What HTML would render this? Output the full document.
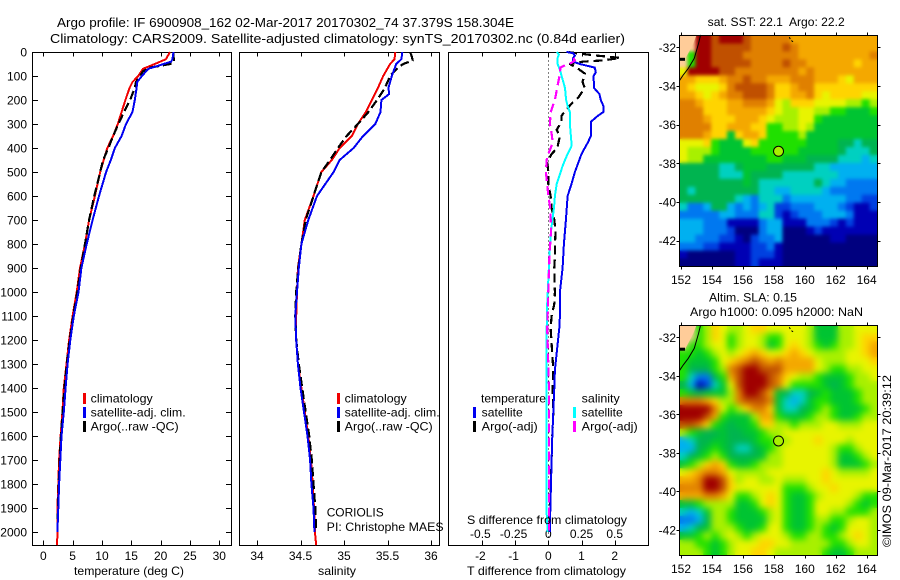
<!DOCTYPE html>
<html lang="en">
<head>
<meta charset="utf-8">
<title>Argo profile 6900908_162</title>
<style>
html,body{margin:0;padding:0;background:#fff;}
svg{display:block;}
text{font-family:"Liberation Sans",Arial,sans-serif;font-size:12px;fill:#000;}
.t13{font-size:13px;}
</style>
</head>
<body>
<svg id="chart" xmlns="http://www.w3.org/2000/svg" width="900" height="580" viewBox="0 0 900 580">
  <defs>
    <filter id="blur-sst" x="-5%" y="-5%" width="110%" height="110%" color-interpolation-filters="sRGB"><feGaussianBlur stdDeviation="1.8"/></filter>
    <filter id="blur-sla" x="-5%" y="-5%" width="110%" height="110%" color-interpolation-filters="sRGB"><feGaussianBlur stdDeviation="3.5"/></filter>
  </defs>
  <rect x="0" y="0" width="900" height="580" fill="#fff"/>
  <text class="t13" x="57" y="27" textLength="457" lengthAdjust="spacingAndGlyphs">Argo profile: IF 6900908_162 02-Mar-2017 20170302_74 37.379S 158.304E</text>
  <text class="t13" x="50" y="43" textLength="575" lengthAdjust="spacingAndGlyphs">Climatology: CARS2009. Satellite-adjusted climatology: synTS_20170302.nc (0.84d earlier)</text>
  <g id="plots"></g>
  <g id="maps"></g>

  <text x="74" y="575" textLength="110" lengthAdjust="spacingAndGlyphs">temperature (deg C)</text>
  <text x="318" y="575" textLength="38" lengthAdjust="spacingAndGlyphs">salinity</text>
  <text x="467" y="575" textLength="159" lengthAdjust="spacingAndGlyphs">T difference from climatology</text>
  <text x="467" y="524" textLength="160" lengthAdjust="spacingAndGlyphs">S difference from climatology</text>

  <g>
    <rect x="83" y="393" width="3" height="11" fill="#f00000"/>
    <rect x="83" y="407" width="3" height="11" fill="#0000f0"/>
    <rect x="83" y="421" width="3" height="11" fill="#000"/>
    <text x="90.7" y="402.3" textLength="62" lengthAdjust="spacingAndGlyphs">climatology</text>
    <text x="90.7" y="416.7" textLength="95" lengthAdjust="spacingAndGlyphs">satellite-adj. clim.</text>
    <text x="90.7" y="430.7" textLength="88" lengthAdjust="spacingAndGlyphs">Argo(..raw -QC)</text>
  </g>
  <g>
    <rect x="337" y="393" width="3" height="11" fill="#f00000"/>
    <rect x="337" y="407" width="3" height="11" fill="#0000f0"/>
    <rect x="337" y="421" width="3" height="11" fill="#000"/>
    <text x="344.7" y="402.3" textLength="62" lengthAdjust="spacingAndGlyphs">climatology</text>
    <text x="344.7" y="416.7" textLength="95" lengthAdjust="spacingAndGlyphs">satellite-adj. clim.</text>
    <text x="344.7" y="430.7" textLength="88" lengthAdjust="spacingAndGlyphs">Argo(..raw -QC)</text>
  </g>
  <text x="326.7" y="516.7" textLength="57" lengthAdjust="spacingAndGlyphs">CORIOLIS</text>
  <text x="326.7" y="531" textLength="117" lengthAdjust="spacingAndGlyphs">PI: Christophe MAES</text>

  <g>
    <text x="481" y="402.3" textLength="65" lengthAdjust="spacingAndGlyphs">temperature</text>
    <text x="581.7" y="402.3" textLength="38" lengthAdjust="spacingAndGlyphs">salinity</text>
    <rect x="473" y="407" width="3" height="11" fill="#0000f0"/>
    <rect x="473" y="421" width="3" height="11" fill="#000"/>
    <rect x="573" y="407" width="3" height="11" fill="#00ffff"/>
    <rect x="573" y="421" width="3" height="11" fill="#ff00ff"/>
    <text x="481.7" y="416.7" textLength="41" lengthAdjust="spacingAndGlyphs">satellite</text>
    <text x="481.7" y="430.7" textLength="56" lengthAdjust="spacingAndGlyphs">Argo(-adj)</text>
    <text x="581.7" y="416.7" textLength="41" lengthAdjust="spacingAndGlyphs">satellite</text>
    <text x="581.7" y="430.7" textLength="56" lengthAdjust="spacingAndGlyphs">Argo(-adj)</text>
  </g>

  <text x="707.7" y="26" textLength="137" lengthAdjust="spacingAndGlyphs">sat. SST: 22.1&#160; Argo: 22.2</text>
  <text x="709" y="301.7" textLength="88" lengthAdjust="spacingAndGlyphs">Altim. SLA: 0.15</text>
  <text x="690" y="316" textLength="173" lengthAdjust="spacingAndGlyphs">Argo h1000: 0.095 h2000: NaN</text>
  <text transform="translate(891 547) rotate(-90)" x="0" y="0" textLength="172" lengthAdjust="spacingAndGlyphs">©IMOS 09-Mar-2017 20:39:12</text>
</svg>

<script>
// ---------- depth axis ticks ----------
const depthTicks = [0,100,200,300,400,500,600,700,800,900,1000,1100,1200,1300,1400,1500,1600,1700,1800,1900,2000];
const tempTicks = [0,5,10,15,20,25,30];
const salTicks = [34,34.5,35,35.5,36];
const salTickLabels = ["34","34.5","35","35.5","36"];
const tDiffTicks = [-2,-1,0,1,2];
const sDiffTicks = [-0.5,-0.25,0,0.25,0.5];
const sDiffTickLabels = ["-0.5","-0.25","0","0.25","0.5"];

// ---------- temperature profiles ----------
const tempClimDepth = [0,30,50,70,100,125,150,200,250,300,350,400,450,500,600,700,800,900,1000,1100,1200,1300,1400,1500,1600,1700,1800,1900,2000,2055];
const tempClimValue = [21.6,20.9,19.0,17.0,16.2,15.2,14.7,14.0,13.35,12.7,11.9,10.9,10.3,9.7,8.8,7.8,7.1,6.25,5.7,5.0,4.4,3.95,3.5,3.25,2.95,2.7,2.55,2.4,2.45,2.3];
const tempSatDepth = [0,30,40,50,70,100,125,150,200,250,300,350,400,450,500,600,700,800,900,1000,1100,1200,1300,1400,1500,1600,1700,1800,1900,2000];
const tempSatValue = [22.2,22.0,21.8,20.5,17.9,16.8,16.0,15.9,15.6,15.2,14.1,13.35,12.2,11.5,10.7,9.5,8.4,7.4,6.5,6.0,5.2,4.6,4.15,3.8,3.5,3.1,2.9,2.7,2.55,2.4];
const tempArgoDepth = [0,20,30,45,50,55,65,80,100,125,150,200,250,300,350,400,450,500,600,700,800,900,1000,1100,1200,1300,1400,1500,1600,1700,1800,1900,2000];
const tempArgoValue = [22.2,22.2,22.3,22.2,21.6,20.5,18.2,17,16.5,15.8,15.6,14.8,13.75,12.8,11.9,11.1,10.2,9.7,8.7,7.8,7.1,6.4,5.8,5.1,4.5,4.0,3.6,3.3,3.0,2.8,2.6,2.5,2.4];

// ---------- salinity profiles ----------
const salClimDepth = [0,30,50,100,150,200,250,300,350,400,450,500,600,700,800,900,1000,1100,1200,1300,1400,1500,1600,1700,1800,1900,2000,2055];
const salClimValue = [35.59,35.58,35.53,35.45,35.39,35.32,35.25,35.16,35.09,34.95,34.86,34.74,34.65,34.55,34.51,34.47,34.46,34.45,34.45,34.47,34.51,34.55,34.59,34.62,34.64,34.655,34.665,34.68];
const salSatDepth = [0,30,50,100,150,175,200,250,300,350,400,450,500,600,700,800,900,1000,1100,1200,1300,1400,1500,1600,1700,1800,1900,2000];
const salSatValue = [35.67,35.66,35.6,35.55,35.51,35.52,35.43,35.42,35.36,35.22,35.11,34.95,34.88,34.69,34.59,34.51,34.48,34.46,34.44,34.45,34.47,34.5,34.54,34.58,34.61,34.625,34.65,34.66];
const salArgoDepth = [0,20,35,50,65,100,150,200,250,300,350,400,450,500,600,700,800,900,1000,1100,1200,1300,1400,1500,1600,1700,1800,1900,2000];
const salArgoValue = [35.76,35.78,35.79,35.68,35.62,35.53,35.47,35.38,35.28,35.16,35.03,34.93,34.84,34.74,34.65,34.56,34.51,34.475,34.45,34.44,34.45,34.48,34.52,34.56,34.6,34.63,34.65,34.67,34.68];

// ---------- difference profiles ----------
const tDiffSatDepth = [0,5,15,25,40,50,65,85,100,150,175,200,225,250,265,290,350,375,425,500,550,600,700,800,900,1000,1100,1150,1325,1400,1500,1600,1700,1800,1900,2000];
const tDiffSatValue = [0.55,0.75,0.8,0.75,0.75,0.95,1.4,1.43,1.36,1.38,1.54,1.58,1.66,1.66,1.5,1.29,1.28,1.2,1.0,0.8,0.7,0.58,0.53,0.47,0.43,0.35,0.35,0.33,0.2,0.18,0.15,0.12,0.1,0.08,0.06,0.05];
const tDiffArgoDepth = [0,5,10,15,20,25,35,40,50,70,90,125,150,190,215,240,265,290,325,350,400,425,460,500,550,600,650,700,750,800,850,900,1000,1050,1100,1150,1325,1400,1500,1600,2000];
const tDiffArgoValue = [0.6,0.85,1.15,1.45,1.85,2.16,1.65,1.05,0.65,0.9,1.1,1.03,1.1,0.9,0.7,0.55,0.4,0.4,0.25,0.35,0.27,0.1,-0.03,0,0,0.07,0.1,0.18,0.22,0.2,0.2,0.18,0.2,0.18,0.1,0.07,0.15,0.13,0.15,0.12,0.03];
const sDiffSatDepth = [0,10,25,50,75,100,150,200,225,250,300,350,390,420,440,475,550,600,650,700,750,850,950,1050,1150,1325,1900,2000];
const sDiffSatValue = [0.063,0.08,0.07,0.07,0.088,0.1,0.126,0.134,0.145,0.163,0.163,0.17,0.176,0.15,0.133,0.108,0.063,0.05,0.043,0.03,0.02,0.008,0,-0.008,-0.012,-0.012,-0.014,-0.005];
const sDiffArgoDepth = [25,35,45,55,65,90,125,160,200,250,300,340,375,400,425,450,500,550,600,640,700,750,850,1000,1100,1150,1400,2000];
const sDiffArgoValue = [0.19,0.2,0.175,0.125,0.09,0.088,0.075,0.063,0.05,0.018,0.012,0.025,0.033,0.018,0,-0.012,-0.018,-0.008,0,0.012,0.018,0.02,0.008,0,-0.005,-0.008,0.005,0.005];

// ---------- map colour-class grids (25 columns × 29 rows, -1 = land) ----------
const sstGrid = [
[-1,-1,15,15,14,15,15,15,14,13,13,13,13,13,12,12,12,12,12,12,12,12,12,12,12],
[-1,-1,15,15,14,14,14,14,14,13,13,13,13,14,13,12,12,12,12,12,12,12,12,12,12],
[-1,8,15,15,14,14,14,14,13,13,13,13,13,13,13,12,12,12,12,12,12,12,12,12,13],
[-1,8,15,15,14,14,14,14,14,13,13,13,13,14,13,13,12,12,12,12,12,12,11,12,12],
[10,15,15,15,15,14,14,13,13,13,13,13,13,13,13,12,13,12,12,12,12,12,12,12,12],
[12,12,11,11,11,12,13,13,14,13,13,12,12,12,13,13,13,12,12,12,11,10,12,12,12],
[12,11,10,10,10,11,13,14,14,14,14,13,11,11,12,13,13,11,11,11,11,11,11,11,11],
[12,12,11,10,11,12,13,13,14,14,14,13,11,11,12,12,13,11,10,11,11,11,11,10,10],
[13,13,12,11,11,11,12,12,13,13,13,12,10,9,11,11,11,10,10,10,10,9,9,8,9],
[13,13,13,11,11,11,12,12,12,12,12,11,10,9,9,10,10,9,9,8,8,7,7,7,8],
[13,13,13,12,11,11,11,12,12,12,11,10,9,9,9,10,10,8,7,7,7,7,7,7,7],
[13,13,13,13,11,11,12,12,12,11,11,8,8,9,9,10,9,7,7,7,7,7,7,7,7],
[13,13,13,12,11,11,7,11,12,12,11,8,8,8,8,9,7,7,7,7,7,7,7,7,7],
[10,10,10,11,8,7,7,7,10,11,8,8,8,8,8,8,7,7,7,7,6,6,5,6,6],
[10,9,9,9,8,7,7,7,7,8,8,8,8,8,8,7,7,7,7,7,6,5,5,5,6],
[10,9,9,7,7,7,7,7,7,7,7,8,8,7,7,7,6,6,6,6,5,5,5,4,5],
[6,6,6,6,6,5,5,6,7,7,7,6,6,6,6,6,6,5,5,4,4,4,4,4,4],
[6,6,6,6,6,5,5,5,7,6,6,6,6,5,5,5,5,5,5,5,4,4,4,4,4],
[6,6,6,6,6,6,6,6,7,6,5,5,5,5,5,5,5,6,5,4,4,3,3,3,3],
[6,5,6,6,6,6,6,6,6,6,5,5,4,4,5,5,5,5,4,3,3,3,3,3,3],
[6,6,6,6,6,6,6,5,4,3,5,5,5,3,4,4,4,4,4,4,4,3,3,2,2],
[5,3,3,4,6,6,4,3,4,3,4,5,2,2,3,3,3,4,4,4,3,2,1,1,2],
[3,3,3,3,3,4,4,3,3,3,5,5,2,1,2,3,3,3,4,4,4,3,1,1,1],
[4,4,4,3,3,3,1,1,1,1,3,4,4,1,1,1,3,3,3,2,1,2,1,1,1],
[4,4,4,3,3,3,2,0,0,0,3,4,4,0,0,0,1,2,1,1,1,1,1,1,1],
[4,4,3,3,3,2,2,1,0,2,3,3,4,0,0,0,0,0,0,1,1,0,0,0,0],
[3,3,3,2,2,1,1,1,1,2,2,3,1,0,0,0,0,0,0,0,0,0,0,0,0],
[1,0,0,0,0,0,0,1,1,2,2,2,1,0,0,0,0,0,0,0,0,0,0,0,0],
[0,0,0,0,0,0,0,1,1,2,1,1,1,0,0,0,0,0,0,0,0,0,0,0,0]
];
const slaGrid = [
[-1,-1,8,9,11,10,9,9,10,11,11,10,10,10,10,10,9,7,7,7,9,9,10,10,10],
[-1,-1,8,9,11,10,8,9,10,10,9,8,8,10,10,10,9,7,7,7,9,9,10,11,11],
[-1,8,8,9,10,10,8,9,10,10,9,7,8,10,11,10,9,8,7,8,9,9,10,11,12],
[8,8,7,8,9,10,9,10,11,12,11,10,10,11,12,11,10,9,9,9,9,10,10,11,12],
[8,7,7,7,8,10,11,12,13,14,13,12,13,12,12,12,12,10,9,9,9,10,10,10,11],
[8,6,6,6,8,9,13,14,15,15,14,14,14,12,12,12,12,10,9,8,8,9,9,10,10],
[8,5,3,3,6,8,12,14,15,15,15,14,13,11,10,9,9,8,7,7,7,8,9,9,10],
[6,4,1,2,5,7,10,14,15,15,15,14,13,10,8,8,8,8,7,6,7,8,9,9,9],
[8,7,6,7,7,7,9,13,15,15,14,12,7,6,5,5,6,7,8,7,7,7,8,9,9],
[13,13,13,12,11,9,9,13,14,14,14,13,7,5,4,5,7,8,8,7,7,7,8,9,9],
[15,15,15,15,13,10,8,9,11,13,13,11,7,5,5,6,7,8,9,8,7,7,7,8,9],
[15,15,15,14,12,8,7,7,7,9,12,12,8,7,7,7,8,9,9,8,7,7,8,9,9],
[14,14,13,11,8,7,6,7,7,8,11,11,9,9,8,9,9,9,10,10,9,9,9,10,10],
[9,8,7,6,6,7,6,6,7,7,8,9,9,10,10,10,10,10,10,10,10,10,10,10,10],
[4,5,6,6,7,7,6,6,6,7,8,8,9,9,10,10,10,11,10,10,10,9,10,10,10],
[4,4,6,7,8,7,6,5,5,6,7,8,9,10,10,10,10,10,10,9,8,8,9,10,10],
[5,6,7,8,9,8,6,6,6,6,7,9,9,10,10,10,10,10,10,9,7,7,8,9,10],
[7,8,9,11,12,11,8,7,7,8,9,9,9,10,10,10,10,10,10,9,7,7,7,8,9],
[10,11,12,13,13,12,10,9,9,9,9,10,10,10,10,10,10,10,11,10,9,9,9,9,10],
[12,12,13,15,15,14,11,9,10,10,9,9,10,9,9,9,10,10,11,10,10,10,10,10,10],
[13,13,13,15,15,14,11,10,10,10,10,10,10,8,8,8,9,10,10,11,10,10,10,10,10],
[12,12,12,13,13,12,10,8,8,9,10,11,10,8,7,7,8,9,10,10,10,10,9,8,8],
[7,7,8,9,9,9,9,7,7,8,10,11,10,8,7,7,8,10,10,10,10,9,8,7,8],
[5,4,5,7,9,9,8,7,7,7,8,9,10,8,7,7,8,10,10,9,9,8,8,8,9],
[3,3,4,6,9,9,8,7,7,7,7,9,10,8,7,7,8,9,9,8,8,9,10,10,9],
[4,5,6,7,9,9,9,8,7,7,8,10,10,8,7,7,8,9,8,7,8,10,10,10,9],
[7,7,8,9,8,9,10,9,8,9,10,10,10,9,8,8,9,9,8,8,9,10,11,10,9],
[9,9,8,8,7,8,9,10,10,10,11,11,10,10,9,9,9,9,9,8,8,9,10,10,9],
[9,9,9,8,7,8,9,10,10,11,11,10,9,9,9,9,9,9,8,7,7,8,9,9,9]
];
const colourClasses = ["#00007f","#0000b4","#0040e0","#0078f0","#00b0f0","#00d0c0","#00b450","#00c432","#20e000","#a8f000","#e8f400","#ffd400","#f4a800","#e08000","#c05000","#a00000"];
const landColour = "#ffcc99";

// ---------- geography ----------
const lonTicks = [152,154,156,158,160,162,164];
const latTicks = [-32,-34,-36,-38,-40,-42];
const landLon = [151.89,153.01,152.8,152.58,152.26,151.89];
const landLat = [-31.36,-31.36,-31.79,-32.14,-32.62,-32.62];
const coastLon = [153.27,153.14,152.86,152.47,152.15,151.89];
const coastLat = [-31.36,-31.79,-32.57,-33.09,-33.43,-33.74];
const landEdgeLon = [151.89,152.26];
const landEdgeLat = [-32.62,-32.62];
const islandLon = [159.0,159.1,159.23,159.26];
const islandLat = [-31.48,-31.62,-31.71,-31.76];
const profileLon = 158.304;
const profileLat = -37.379;
const profileColour = "#a8f000";

// ---------- helpers ----------
const NS = "http://www.w3.org/2000/svg";
function mk(tag, attrs, parent){
  const el = document.createElementNS(NS, tag);
  for (const k in attrs) el.setAttribute(k, attrs[k]);
  parent.appendChild(el);
  return el;
}
const plots = document.getElementById("plots");
const maps = document.getElementById("maps");

const TOP = 52.5, BOTTOM = 545.5;
const yDepth = d => 52 + 0.24 * d;
const xTemp = v => 43.3 + 5.867 * v;
const xSal = v => 257 + 87 * (v - 34);
const xTD = v => 548.3 + 33.2 * v;
const xSD = v => 548.3 + 132.8 * v;

function panelFrame(name, left, right){
  const r = mk("rect", {x:left, y:TOP, width:right-left, height:BOTTOM-TOP, fill:"none", stroke:"#000", "stroke-width":1}, plots);
  
  
}
function xAxis(ticks, labels, xf, labelY, withTicks){
  ticks.forEach((t, i) => {
    const x = Math.round(xf(t)) + 0.5;
    if (withTicks) {
      const a = mk("line", {x1:x, x2:x, y1:TOP, y2:TOP+4, stroke:"#000", "stroke-width":1}, plots);
      
      
      const b = mk("line", {x1:x, x2:x, y1:BOTTOM, y2:BOTTOM-5, stroke:"#000", "stroke-width":1}, plots);
      
      
    }
    const l = mk("text", {x:xf(t) - (t < 0 ? 1.5 : 0), y:labelY, "text-anchor":"middle"}, plots);
    l.textContent = labels[i];
    
    
  });
}
function profile(name, xf, depths, values, colour, width, dash){
  const pts = depths.map((d, i) => xf(values[i]).toFixed(1) + "," + yDepth(d).toFixed(1)).join(" ");
  const attrs = {points:pts, fill:"none", stroke:colour, "stroke-width":width, "stroke-linejoin":"round", "shape-rendering":"crispEdges"};
  if (dash) attrs["stroke-dasharray"] = dash;
  const p = mk("polyline", attrs, plots);
  
  
}

// ---------- draw profile panels ----------
panelFrame('temperature-panel', 32.5, 231.5);
panelFrame('salinity-panel', 239.5, 439.5);
panelFrame('difference-panel', 448.5, 648.5);

depthTicks.forEach(d => {
  const y = Math.round(yDepth(d)) + 0.5;
  const a = mk("line", {x1:32.5, x2:38, y1:y, y2:y, stroke:"#000", "stroke-width":1}, plots);
  
  
  const b = mk("line", {x1:226, x2:231.5, y1:y, y2:y, stroke:"#000", "stroke-width":1}, plots);
  
  
  const l = mk("text", {x:27, y:yDepth(d)+4.5, "text-anchor":"end"}, plots);
  l.textContent = String(d);
  
  
});
xAxis(tempTicks, tempTicks.map(String), xTemp, 560, true);
xAxis(salTicks, salTickLabels, xSal, 560, true);
xAxis(tDiffTicks, tDiffTicks.map(String), xTD, 560, true);
xAxis(sDiffTicks, sDiffTickLabels, xSD, 538, false);

const zero = mk("line", {x1:548.5, x2:548.5, y1:TOP, y2:BOTTOM, stroke:"#000", "stroke-width":1, "stroke-dasharray":"1 3"}, plots);



profile('temperature-climatology-line', xTemp, tempClimDepth, tempClimValue, "#f00000", 2);
profile('temperature-argo-line', xTemp, tempArgoDepth, tempArgoValue, "#000", 2.2, "9 4");
profile('temperature-satellite-line', xTemp, tempSatDepth, tempSatValue, "#0000f0", 2);

profile('salinity-climatology-line', xSal, salClimDepth, salClimValue, "#f00000", 2);
profile('salinity-argo-line', xSal, salArgoDepth, salArgoValue, "#000", 2.2, "9 4");
profile('salinity-satellite-line', xSal, salSatDepth, salSatValue, "#0000f0", 2);

profile('t-difference-argo-line', xTD, tDiffArgoDepth, tDiffArgoValue, "#000", 2.2, "9 5");
profile('t-difference-satellite-line', xTD, tDiffSatDepth, tDiffSatValue, "#0000f0", 2);
profile('s-difference-satellite-line', xSD, sDiffSatDepth, sDiffSatValue, "#00ffff", 2);
profile('s-difference-argo-line', xSD, sDiffArgoDepth, sDiffArgoValue, "#ff00ff", 2.2, "9 5");

// ---------- draw maps ----------
function drawMap(name, grid, left, right, top, bottom, lat32Y, pxPerLat, labelY, blurId){
  const g = mk("g", {}, maps);
  
  
  const xLon = lon => 681 + 15.47 * (lon - 152);
  const yLat = lat => lat32Y + pxPerLat * (-32 - lat);
  const rows = grid.length, cols = grid[0].length;
  const cw = (right - left) / cols, ch = (bottom - top) / rows;

  const clip = mk("clipPath", {id:name + "-clip"}, g);
  mk("rect", {x:left, y:top, width:right-left, height:bottom-top}, clip);
  const clipped = mk("g", {"clip-path":"url(#" + name + "-clip)"}, g);
  
  
  const cells = mk("g", {id:name + "-cells"}, clipped);
  
  
  grid.forEach((row, r) => row.forEach((v, c) => {
    const cell = mk("rect", {x:left + c*cw, y:top + r*ch, width:cw + 0.6, height:ch + 0.6, fill: v < 0 ? landColour : colourClasses[v]}, cells);
    
    
  }));
  const soft = mk("use", {href:"#" + name + "-cells", filter:"url(#" + blurId + ")"}, clipped);
  
  

  const land = mk("polygon", {points:landLon.map((v,i) => xLon(v).toFixed(1)+","+yLat(landLat[i]).toFixed(1)).join(" "), fill:landColour}, g);
  
  
  const coast = mk("polyline", {points:coastLon.map((v,i) => xLon(v).toFixed(1)+","+yLat(coastLat[i]).toFixed(1)).join(" "), fill:"none", stroke:"#000", "stroke-width":1}, g);
  
  
  const edge = mk("polyline", {points:landEdgeLon.map((v,i) => xLon(v).toFixed(1)+","+yLat(landEdgeLat[i]).toFixed(1)).join(" "), fill:"none", stroke:"#000", "stroke-width":3}, g);
  
  
  const island = mk("polyline", {points:islandLon.map((v,i) => xLon(v).toFixed(1)+","+yLat(islandLat[i]).toFixed(1)).join(" "), fill:"none", stroke:"#000", "stroke-width":1, "stroke-dasharray":"2 2"}, g);
  
  
  const frame = mk("rect", {x:left, y:top, width:right-left, height:bottom-top, fill:"none", stroke:"#000", "stroke-width":1}, g);
  
  
  lonTicks.forEach(lon => {
    const x = Math.round(xLon(lon)) + 0.5;
    const a = mk("line", {x1:x, x2:x, y1:top-3, y2:top, stroke:"#000", "stroke-width":1}, g);
    
    
    const b = mk("line", {x1:x, x2:x, y1:bottom, y2:bottom+3, stroke:"#000", "stroke-width":1}, g);
    
    
    const l = mk("text", {x:xLon(lon), y:labelY, "text-anchor":"middle"}, g);
    l.textContent = String(lon);
    
    
  });
  latTicks.forEach(lat => {
    const y = Math.round(yLat(lat)) + 0.5;
    const a = mk("line", {x1:left-3, x2:left, y1:y, y2:y, stroke:"#000", "stroke-width":1}, g);
    
    
    const b = mk("line", {x1:right, x2:right+3, y1:y, y2:y, stroke:"#000", "stroke-width":1}, g);
    
    
    const l = mk("text", {x:676, y:yLat(lat)+4.5, "text-anchor":"end"}, g);
    l.textContent = String(lat);
    
    
  });
  const marker = mk("circle", {cx:xLon(profileLon), cy:yLat(profileLat), r:5, fill:profileColour, stroke:"#000", "stroke-width":1}, g);
  
  
}
drawMap('sst-map', sstGrid, 679.5, 877.5, 35.5, 266.5, 47.3, 19.33, 284, 'blur-sst');
drawMap('sla-map', slaGrid, 679.5, 877.5, 325.5, 555.5, 337.3, 19.27, 573, 'blur-sla');
</script>
</body>
</html>
